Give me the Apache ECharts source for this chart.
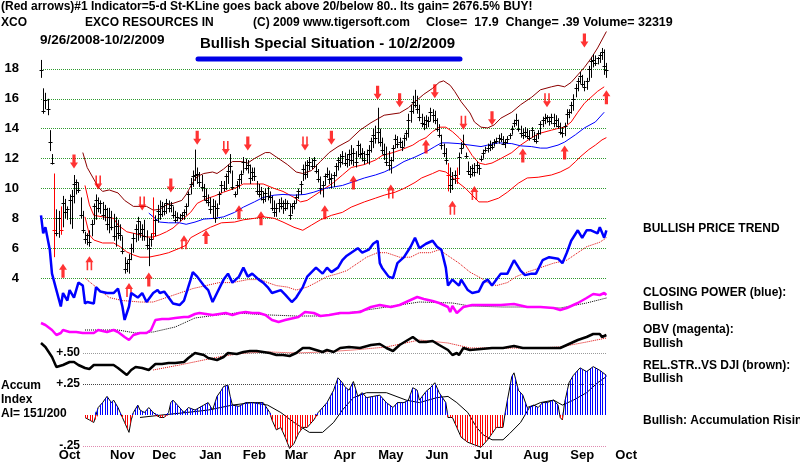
<!DOCTYPE html>
<html>
<head>
<meta charset="utf-8">
<script src="https://cdn.jsdelivr.net/npm/echarts@6/dist/echarts.min.js"></script>
<style>
  html, body { margin: 0; padding: 0; background: #fff; }
  #chart { width: 800px; height: 466px; }
</style>
</head>
<body>
<div id="chart"></div>
<script>
// XCO daily bars, 9/26/2008 .. 10/2/2009 (x = trading day index)
const priceHigh = [
  18.6,16.7,16.4,16.0,13.9,12.3,11.0,8.6,8.5,8.8,
  9.5,9.3,8.8,9.6,9.9,10.9,10.6,10.4,9.4,8.5,
  7.1,7.0,7.2,7.9,9.0,9.6,9.4,9.2,9.1,8.9,
  8.7,8.7,8.5,8.3,8.1,7.9,7.6,6.8,5.4,5.2,
  5.6,6.3,7.0,7.6,8.1,7.8,7.6,7.9,7.2,6.7,
  7.0,9.4,8.2,8.9,9.2,9.1,9.0,9.3,9.2,9.1,
  8.8,8.5,8.4,8.3,8.4,8.6,9.0,9.8,10.7,11.2,
  12.6,11.4,11.1,10.9,10.3,10.0,9.6,9.4,9.3,9.2,
  9.0,9.8,10.5,10.5,11.0,11.6,12.3,11.2,9.8,10.5,
  10.9,11.2,12.1,12.0,11.9,11.6,11.4,11.4,10.5,10.3,
  10.1,9.8,10.0,10.1,9.8,9.5,9.2,9.0,9.3,9.4,
  9.2,9.3,9.2,9.0,9.0,9.2,9.6,10.0,10.5,11.6,
  11.8,11.9,12.1,12.0,12.1,11.6,11.3,10.8,10.5,11.0,
  11.4,11.2,11.0,11.1,11.7,12.1,12.3,12.5,12.4,12.3,
  12.6,12.9,12.7,12.5,13.2,13.0,12.7,12.5,12.6,12.9,
  13.4,14.0,14.2,15.4,14.0,13.4,13.0,12.8,12.5,12.1,
  12.9,13.6,13.5,13.4,13.2,13.6,13.9,15.0,15.6,16.2,
  16.6,16.2,15.6,15.0,14.8,14.9,14.8,15.4,15.3,15.2,
  14.7,14.3,13.6,13.0,12.7,11.7,11.4,11.1,11.2,11.4,
  12.4,13.1,13.6,12.4,11.8,11.5,11.6,11.7,11.8,11.6,
  12.2,12.6,12.8,13.0,13.2,13.1,13.3,13.4,13.6,13.7,
  13.5,13.3,13.5,13.7,14.2,14.6,15.0,14.6,14.2,14.0,
  14.1,14.0,13.9,14.1,13.8,13.6,13.9,14.5,14.8,15.0,
  14.9,14.8,15.0,15.0,14.9,14.7,14.4,14.1,14.4,15.3,
  15.3,15.8,16.3,17.0,17.4,17.8,17.6,17.2,17.4,18.2,
  18.8,19.0,18.9,18.8,19.1,19.4,19.3,18.4
];
const priceLow = [
  17.4,15.0,15.3,14.9,12.5,11.6,5.4,6.8,6.7,6.9,
  7.4,8.0,7.9,7.6,7.3,9.0,9.6,9.7,8.0,7.0,
  6.3,6.2,6.1,6.8,7.6,7.9,8.4,8.3,7.9,7.8,
  7.2,7.0,7.2,6.5,6.1,6.6,6.5,5.6,4.3,4.4,
  4.3,5.2,5.7,6.4,6.5,6.7,6.5,6.5,5.9,4.8,
  6.1,6.6,6.8,7.7,7.9,8.1,8.2,8.3,8.4,8.4,
  8.0,7.7,7.8,7.8,7.9,7.9,8.2,8.8,9.6,10.1,
  10.5,10.3,10.1,9.8,9.2,9.0,8.8,8.3,8.0,7.7,
  8.1,8.9,9.7,9.8,9.9,10.3,11.0,9.9,9.4,9.6,
  10.0,10.3,11.0,11.2,11.0,10.3,10.5,10.5,9.6,9.4,
  9.2,9.0,9.1,9.2,9.0,8.5,8.1,8.1,8.4,8.6,
  8.3,8.5,8.6,7.9,8.3,8.6,9.0,9.3,9.6,10.5,
  10.6,10.7,11.2,11.3,11.4,11.0,10.4,9.6,9.4,10.2,
  10.7,10.3,10.0,10.1,10.8,11.2,11.4,11.6,11.5,11.4,
  11.5,11.6,11.5,11.4,12.1,12.0,11.8,11.6,11.7,11.6,
  12.4,12.7,13.0,13.0,12.8,12.3,11.9,11.5,11.2,11.0,
  11.8,12.7,12.7,12.7,12.5,12.8,13.2,13.4,14.4,15.0,
  15.4,15.0,14.5,14.1,13.9,14.0,14.1,14.5,14.4,14.3,
  13.8,13.4,12.6,12.1,11.6,9.8,9.7,9.9,10.3,10.3,
  10.9,12.3,12.7,12.0,10.9,10.7,10.8,10.8,11.0,10.9,
  11.8,12.0,12.4,12.4,12.5,12.6,12.8,13.0,13.0,13.1,
  12.9,12.7,13.0,13.3,13.6,14.1,14.2,13.8,13.4,13.3,
  13.4,13.3,13.2,13.4,13.1,13.0,13.3,13.6,14.1,14.3,
  14.4,14.2,14.3,14.1,14.1,14.0,13.6,13.4,13.5,14.3,
  14.7,15.0,15.2,16.1,16.5,17.0,16.8,16.5,16.6,17.2,
  17.4,18.1,18.2,18.3,18.4,18.6,17.6,17.4
];
const priceClose = [
  17.9,15.2,15.9,15.3,13.1,11.7,7.2,7.0,8.0,7.2,
  9.0,8.4,8.6,9.2,9.5,10.3,10.4,9.9,8.2,7.2,
  6.6,6.9,6.4,7.6,8.8,9.2,8.7,9.0,8.2,8.6,
  7.6,8.1,7.4,6.8,7.5,7.0,6.9,5.8,4.6,5.0,
  5.3,6.0,6.7,7.3,7.8,7.0,7.3,6.8,6.2,6.0,
  6.6,7.0,7.9,8.5,8.3,8.8,8.5,9.0,8.7,8.9,
  8.2,7.9,8.1,8.0,8.2,8.4,8.8,9.6,10.3,10.8,
  10.9,11.0,10.4,10.1,9.5,9.2,9.1,8.6,8.8,8.0,
  8.7,9.6,10.2,10.0,10.8,11.2,11.5,10.1,9.6,10.2,
  10.6,11.0,11.8,11.4,11.6,10.7,11.1,10.8,9.8,9.6,
  9.8,9.3,9.7,9.5,9.4,8.7,8.4,8.7,9.0,8.8,
  9.0,8.7,9.0,8.2,8.8,9.0,9.4,9.8,10.3,11.3,
  11.0,11.6,11.8,11.5,11.9,11.2,10.6,10.0,10.2,10.8,
  11.0,10.6,10.7,10.9,11.5,11.9,11.8,12.2,11.7,12.0,
  12.3,11.9,12.4,11.8,12.9,12.3,12.4,11.9,12.3,12.6,
  13.2,13.6,13.4,13.8,13.1,12.6,12.3,11.8,11.6,11.9,
  12.7,13.3,13.0,13.1,12.8,13.4,13.7,14.6,15.2,15.8,
  15.6,15.3,14.8,14.4,14.3,14.6,14.5,15.1,14.9,14.6,
  14.0,13.6,12.9,12.4,11.9,10.9,10.2,10.6,10.9,10.7,
  12.1,12.7,13.0,12.2,11.2,11.0,11.4,11.1,11.6,11.4,
  12.0,12.4,12.6,12.7,12.9,12.8,13.1,13.2,13.4,13.3,
  13.0,13.1,13.3,13.6,14.0,14.4,14.6,14.0,13.7,13.6,
  13.8,13.5,13.4,13.9,13.3,13.2,13.7,14.3,14.6,14.7,
  14.8,14.5,14.8,14.4,14.6,14.2,13.8,13.7,14.2,15.0,
  15.1,15.6,16.0,16.7,17.2,17.5,17.0,16.8,17.2,18.0,
  18.5,18.6,18.4,18.7,18.9,19.1,18.2,17.9
];
const redBarDays = [6, 9, 51, 185, 189];

// bands and average drawn over the price bars: [day, price]
const upperBand = [[19,12.4],[21,11.4],[26,10.1],[28,9.8],[31,9.9],[35,9.7],[38,9.2],[42,8.8],[45,8.8],[48,8.8],[51,8.55],[54,8.6],[57,8.9],[60,9.0],[64,9.2],[66,9.6],[69,10.4],[71,10.8],[74,11.0],[78,11.1],[80,11.0],[83,11.3],[87,11.8],[91,11.8],[94,11.7],[97,12.0],[102,12.4],[104,12.4],[107,12.1],[112,11.6],[116,11.1],[119,11.0],[123,11.2],[127,11.8],[131,12.4],[135,12.8],[140,13.2],[145,13.9],[150,14.4],[156,14.9],[163,15.05],[167,15.4],[170,15.8],[174,16.3],[178,16.7],[181,17.1],[183,17.2],[186,16.9],[188,16.5],[191,15.8],[195,15.05],[197,14.45],[200,14.1],[203,14.05],[206,14.25],[209,14.7],[214,15.1],[218,15.6],[223,16.1],[227,16.6],[232,16.8],[235,16.9],[238,16.8],[241,17.1],[244,17.6],[247,18.1],[250,18.7],[253,19.4],[257,20.5]];
const upperRedBand = [[20,10.2],[22,8.9],[24,8.2],[28,8.1],[33,8.0],[35,7.55],[39,7.1],[42,7.0],[45,6.9],[48,6.75],[51,6.75],[54,6.9],[57,7.1],[60,7.35],[63,7.75],[68,8.4],[71,9.0],[75,9.3],[79,9.5],[83,9.75],[88,10.0],[92,10.3],[97,10.3],[101,10.3],[106,10.0],[110,9.8],[115,9.4],[118,9.1],[121,9.2],[125,9.6],[129,10.0],[133,10.4],[137,10.9],[141,11.4],[147,11.6],[152,11.9],[155,12.2],[160,12.4],[164,12.6],[169,12.9],[172,13.2],[175,13.4],[178,13.8],[181,14.1],[184,14.1],[187,13.8],[190,13.4],[193,12.9],[196,12.2],[199,11.7],[202,11.6],[205,11.7],[209,12.0],[214,12.4],[218,12.9],[223,13.4],[227,13.7],[232,13.9],[236,14.05],[238,14.1],[241,14.45],[244,15.1],[247,15.7],[250,16.1],[253,16.5],[256,16.8]];
const lowerRedBand = [[20,8.1],[22,6.9],[24,6.55],[28,6.35],[33,6.35],[36,6.1],[39,5.75],[42,5.55],[45,5.4],[49,5.4],[54,5.55],[58,5.7],[63,6.0],[66,6.2],[68,6.7],[73,7.1],[77,7.4],[82,7.7],[88,7.75],[92,7.9],[97,8.0],[101,8.1],[106,8.0],[110,7.75],[115,7.4],[119,7.2],[123,7.55],[127,7.9],[132,8.2],[137,8.4],[141,8.75],[147,9.1],[152,9.35],[156,9.55],[161,9.75],[165,10.0],[170,10.4],[173,10.7],[178,11.0],[181,11.2],[184,11.1],[187,10.75],[190,10.35],[193,10.0],[196,9.55],[199,9.1],[203,9.1],[208,9.35],[212,9.75],[217,10.35],[221,10.7],[226,10.75],[232,10.9],[236,11.1],[240,11.4],[243,11.8],[245,12.1],[249,12.6],[252,12.9],[255,13.25],[257,13.4]];
const blueAverage = [[49,8.35],[51,8.1],[54,7.75],[58,7.7],[63,7.7],[66,7.6],[70,7.75],[74,7.95],[79,8.0],[83,8.1],[88,8.4],[92,8.75],[97,9.1],[101,9.4],[106,9.55],[110,9.6],[115,9.55],[120,9.6],[124,9.75],[129,10.0],[133,10.1],[137,10.2],[141,10.4],[147,10.7],[152,10.9],[156,11.1],[161,11.45],[165,11.8],[170,12.1],[175,12.45],[179,12.8],[182,13.05],[185,13.05],[190,13.0],[195,12.9],[200,12.8],[203,12.9],[208,13.05],[214,13.0],[218,12.85],[223,12.8],[227,12.7],[230,12.7],[235,12.9],[238,13.1],[243,13.6],[247,14.05],[252,14.45],[256,15.1]];

// signal arrows: [day, price]
const downArrows = [[15,11.8],[59,10.2],[71,13.4],[94,13.0],[132,13.4],[153,16.4],[163,15.9],[179,16.5],[205,14.7],[247,19.9]];
const downArrowsHollow = [[26,10.4],[46,9.0],[84,12.7],[120,13.0],[192,14.4],[230,15.9]];
const upArrows = [[10,4.5],[49,3.9],[75,6.75],[90,8.4],[100,8.0],[129,8.4],[142,10.4],[175,12.8],[219,12.2],[238,12.4],[257,16.1]];
const upArrowsHollow = [[22,5.0],[40,3.2],[65,6.4],[159,9.8],[187,8.7],[197,9.7]];

// closing power (blue) and its average, on the price scale
const closingPower = [[0,8.2],[1,7.0],[2,7.4],[4,5.9],[5,4.3],[7,3.2],[9,2.1],[10,3.0],[12,2.5],[13,3.2],[15,2.7],[17,3.7],[19,3.5],[20,2.3],[21,2.4],[24,2.3],[25,3.4],[27,3.1],[30,3.0],[33,3.0],[35,3.3],[37,2.1],[38,1.2],[40,2.1],[41,3.0],[44,2.7],[46,3.0],[48,2.4],[51,3.0],[53,3.2],[54,3.0],[56,3.1],[60,2.3],[63,2.2],[65,2.5],[68,3.9],[69,4.4],[71,4.1],[74,3.5],[76,3.2],[78,2.4],[80,3.0],[83,3.9],[85,4.3],[87,3.7],[90,4.1],[92,4.7],[94,4.1],[96,4.3],[99,3.9],[101,3.7],[103,3.4],[105,3.0],[109,3.2],[111,2.9],[114,2.4],[116,2.7],[119,3.4],[121,4.1],[123,4.4],[125,4.7],[128,4.3],[130,4.7],[132,4.4],[135,4.7],[137,5.2],[139,5.5],[141,5.7],[144,6.0],[146,5.7],[149,5.9],[151,6.3],[153,6.5],[154,5.0],[155,4.7],[158,4.1],[160,4.0],[162,5.0],[165,5.4],[168,6.1],[170,6.7],[172,6.0],[175,6.3],[178,6.5],[180,6.1],[182,5.9],[184,4.7],[185,3.5],[187,3.9],[190,3.5],[191,3.9],[194,3.2],[196,3.0],[199,3.1],[201,3.7],[203,3.9],[205,3.5],[209,4.3],[212,4.3],[215,5.2],[218,4.5],[220,4.2],[223,4.3],[225,4.3],[228,5.2],[231,5.4],[235,5.3],[237,5.0],[239,5.7],[241,6.5],[244,7.2],[246,6.7],[248,7.2],[250,7.2],[253,7.0],[254,7.4],[256,6.7],[257,7.2]];
const closingPowerAvg = [[20,4.0],[25,3.4],[31,2.7],[37,2.5],[45,2.4],[51,2.4],[57,2.7],[63,3.0],[69,3.3],[75,3.5],[81,3.7],[87,3.7],[94,3.9],[100,3.9],[103,3.7],[107,3.5],[112,3.4],[116,3.2],[121,3.4],[125,3.7],[130,4.1],[135,4.3],[139,4.5],[144,5.0],[148,5.4],[153,5.7],[157,5.7],[163,5.4],[168,5.4],[172,5.7],[177,5.7],[181,5.9],[186,5.4],[190,5.0],[195,4.4],[200,4.0],[203,3.7],[207,3.5],[212,3.7],[216,4.1],[221,4.4],[227,4.7],[233,5.0],[239,5.2],[244,5.7],[248,6.1],[254,6.4],[257,6.7]];

// OBV (magenta) and its average, relative units
const obv = [[0,4.4],[2,4.0],[5,3.0],[7,2.0],[9,2.4],[10,3.0],[13,2.6],[16,2.6],[19,2.4],[22,2.4],[24,2.4],[26,3.0],[30,2.6],[33,3.0],[35,2.6],[38,1.6],[40,1.0],[42,2.0],[45,2.4],[48,2.4],[50,3.0],[52,5.0],[55,5.2],[58,5.2],[61,5.4],[65,5.6],[67,5.6],[70,6.2],[72,6.4],[75,6.2],[78,6.0],[81,6.2],[84,6.4],[87,6.0],[90,6.4],[93,6.6],[96,6.4],[99,6.4],[102,6.0],[105,5.0],[108,4.6],[111,5.0],[115,5.4],[117,5.6],[120,6.6],[124,6.4],[127,5.8],[131,6.0],[136,6.4],[140,6.4],[145,6.6],[150,7.6],[154,8.0],[159,7.6],[163,8.0],[168,9.0],[171,9.6],[174,9.2],[178,8.8],[181,8.4],[185,7.6],[186,6.6],[187,7.8],[189,6.4],[192,7.6],[196,8.0],[203,8.0],[209,8.0],[215,8.2],[221,7.6],[227,7.6],[233,7.4],[236,7.0],[239,7.4],[244,8.4],[248,9.4],[251,10.2],[254,10.0],[256,10.4],[257,10.0]];
const obvAvg = [[20,3.0],[35,3.0],[43,2.4],[51,2.6],[61,3.6],[70,5.4],[80,6.0],[89,6.4],[104,6.0],[116,5.8],[127,5.8],[142,6.6],[157,7.6],[172,8.6],[187,8.4],[195,7.8],[210,7.6],[225,7.6],[236,7.4],[248,8.4],[257,9.4]];

// relative strength vs DJI (black) and its average, relative units
const relStrength = [[0,7.4],[2,6.6],[5,4.6],[7,2.6],[10,3.0],[13,3.6],[15,3.6],[17,3.0],[20,2.4],[22,2.2],[24,3.0],[26,3.0],[30,3.0],[33,3.0],[35,2.4],[39,1.0],[41,2.0],[43,2.6],[46,2.4],[49,2.0],[52,3.2],[55,3.2],[58,3.4],[61,3.4],[65,3.6],[67,4.4],[70,5.4],[74,5.0],[76,4.4],[80,4.0],[83,4.6],[85,5.4],[89,5.2],[92,5.6],[95,5.8],[98,5.8],[101,5.6],[104,5.4],[107,5.0],[110,5.0],[113,4.8],[116,5.4],[119,6.4],[122,6.4],[125,6.0],[128,5.6],[130,6.0],[133,5.6],[136,6.4],[140,6.6],[145,6.4],[150,7.0],[154,7.2],[157,6.4],[160,5.8],[163,7.0],[166,7.8],[169,8.6],[172,7.6],[175,7.6],[178,7.8],[181,7.0],[185,6.0],[187,5.0],[189,5.4],[190,5.0],[192,6.4],[195,6.0],[200,6.2],[205,6.4],[210,6.4],[215,6.8],[219,6.4],[224,6.4],[230,6.4],[236,6.4],[239,7.0],[244,8.0],[248,8.6],[251,9.2],[254,9.2],[255,8.6],[257,9.0]];
const relStrengthAvg = [[51,2.0],[63,3.0],[74,4.0],[83,4.8],[93,5.4],[104,5.6],[116,5.4],[128,5.6],[142,6.0],[157,6.6],[172,8.0],[185,7.4],[195,6.4],[210,6.4],[225,6.4],[236,6.6],[248,7.6],[257,8.4]];

// accumulation index and its average
const accumIndex = [[20,-0.02],[22,-0.04],[24,-0.06],[26,0.06],[28,0.10],[30,0.15],[32,0.10],[33,0.12],[35,0.06],[36,0.02],[37,-0.02],[38,-0.06],[40,-0.14],[41,-0.04],[42,0.02],[44,0.08],[45,0.04],[47,0.02],[49,0.06],[51,0.02],[54,-0.02],[56,-0.02],[58,0.02],[59,0.10],[60,0.12],[62,0.08],[65,0.02],[67,0.06],[70,0.04],[74,0.08],[76,0.10],[78,0.04],[80,0.15],[82,0.20],[83,0.23],[85,0.24],[86,0.15],[87,0.08],[90,0.07],[93,0.10],[97,0.10],[101,0.10],[104,0.02],[105,-0.04],[107,-0.12],[109,-0.10],[111,-0.18],[113,-0.27],[115,-0.23],[117,-0.15],[119,-0.10],[121,-0.10],[124,-0.04],[126,0.02],[128,0.06],[130,0.10],[133,0.20],[135,0.30],[137,0.26],[138,0.23],[140,0.20],[142,0.27],[144,0.15],[146,0.18],[148,0.14],[151,0.15],[154,0.16],[157,0.10],[160,0.06],[162,0.10],[165,0.10],[167,0.12],[169,0.22],[171,0.20],[172,0.12],[175,0.19],[177,0.22],[179,0.26],[181,0.18],[184,0.10],[185,-0.02],[187,-0.02],[189,-0.10],[191,-0.18],[194,-0.22],[197,-0.24],[200,-0.26],[203,-0.20],[205,-0.15],[207,-0.10],[210,-0.10],[211,0.02],[212,0.12],[214,0.31],[215,0.34],[217,0.20],[219,0.16],[221,0.06],[224,0.08],[226,0.06],[228,0.10],[230,0.10],[233,0.12],[235,0.08],[236,-0.02],[237,-0.04],[238,0.10],[240,0.26],[242,0.32],[245,0.38],[248,0.35],[251,0.39],[254,0.36],[257,0.32]];
const accumAvg = [[45,-0.02],[55,0.0],[66,0.02],[76,0.04],[87,0.08],[96,0.10],[103,0.08],[109,0.02],[115,-0.06],[122,-0.14],[128,-0.14],[133,-0.06],[137,0.04],[142,0.14],[148,0.18],[157,0.18],[166,0.12],[172,0.10],[180,0.14],[185,0.15],[189,0.10],[194,0.02],[198,-0.10],[201,-0.16],[205,-0.20],[210,-0.20],[213,-0.15],[218,-0.06],[222,0.06],[227,0.10],[233,0.12],[237,0.08],[242,0.12],[248,0.18],[253,0.26],[257,0.31]];

// tick labels
const priceTicks = [4, 6, 8, 10, 12, 14, 16, 18];
const aiTicks = [0.5, 0.25, -0.25];
const aiTickLabels = ['+.50', '+.25', '-.25'];
const monthTicks = [13, 37, 56, 77, 97, 116, 138, 159, 180, 201, 225, 246, 266];
const monthLabels = ['Oct', 'Nov', 'Dec', 'Jan', 'Feb', 'Mar', 'Apr', 'May', 'Jun', 'Jul', 'Aug', 'Sep', 'Oct'];

const FONT = '"Liberation Sans", Arial, sans-serif';
const LAST_DAY = 257;
const PX_PER_DAY = 2.2;
const PLOT_LEFT = 41;
const PLOT_WIDTH = LAST_DAY * PX_PER_DAY;
const AI_LEFT = 83;
const AI_WIDTH = PLOT_LEFT + PLOT_WIDTH - AI_LEFT;

const ARROW_DOWN = 'path://M3,0L7,0L7,8L10,8L5,14L0,8L3,8Z';
const ARROW_UP = 'path://M5,0L10,6L7,6L7,14L3,14L3,6L0,6Z';
const ARROW_DOWN_HOLLOW = 'path://M0,8L10,8L5,14Z M1.5,0L3.5,0L3.5,8L1.5,8Z M6.5,0L8.5,0L8.5,8L6.5,8Z';
const ARROW_UP_HOLLOW = 'path://M5,0L10,6L0,6Z M1.5,6L3.5,6L3.5,14L1.5,14Z M6.5,6L8.5,6L8.5,14L6.5,14Z';

function stripes(color) {
  const c = document.createElement('canvas');
  c.width = 5;
  c.height = 4;
  const g = c.getContext('2d');
  g.fillStyle = color;
  g.fillRect(0, 0, 1, 4);
  g.fillRect(2, 0, 1, 4);
  return c;
}

function line(data, xi, yi, color, width, type, z) {
  return {
    type: 'line', data, xAxisIndex: xi, yAxisIndex: yi,
    symbol: 'none', clip: false, silent: true, z: z || 2,
    lineStyle: { color, width, type: type || 'solid' }
  };
}

function arrows(data, symbol) {
  return {
    type: 'scatter', data, xAxisIndex: 0, yAxisIndex: 0, clip: false, silent: true, z: 4,
    symbol, symbolSize: [8, 14], itemStyle: { color: '#ff0000' }
  };
}

function hiddenX(gridIndex, min, max) {
  return { gridIndex, type: 'value', min, max, show: false };
}

// [x, y, text, font size]
const textItems = [
  [1, 7, '(Red arrows)#1 Indicator=5-d St-KLine goes back above 20/below 80.. Its gain= 2676.5% BUY!', 12],
  [1, 23, 'XCO', 12],
  [85, 23, 'EXCO RESOURCES IN', 12],
  [253, 23, '(C) 2009 www.tigersoft.com', 12],
  [426, 23, 'Close=  17.9  Change= .39 Volume= 32319', 12.5],
  [40, 40, '9/26/2008-10/2/2009', 13.5],
  [643, 229, 'BULLISH PRICE TREND', 12],
  [643, 293, 'CLOSING POWER (blue):', 12],
  [643, 307, 'Bullish', 12],
  [643, 330, 'OBV (magenta):', 12],
  [643, 344, 'Bullish', 12],
  [643, 366, 'REL.STR..VS DJI (brown):', 12],
  [643, 379, 'Bullish', 12],
  [643, 421, 'Bullish: Accumulation Rising', 12],
  [1, 386, 'Accum', 12],
  [1, 400, 'Index', 12],
  [1, 414, 'AI= 151/200', 12]
];

const chart = echarts.init(document.getElementById('chart'), null, { renderer: 'canvas' });

chart.setOption({
  animation: false,
  backgroundColor: '#ffffff',
  grid: [
    { left: PLOT_LEFT, top: 39, width: PLOT_WIDTH, height: 269 },
    { left: PLOT_LEFT, top: 290, width: PLOT_WIDTH, height: 55 },
    { left: PLOT_LEFT, top: 330, width: PLOT_WIDTH, height: 50 },
    { left: AI_LEFT, top: 353, width: AI_WIDTH, height: 93 },
    { left: PLOT_LEFT, top: 446, width: 270 * PX_PER_DAY, height: 1 }
  ],
  xAxis: [
    hiddenX(0, 0, LAST_DAY),
    hiddenX(1, 0, LAST_DAY),
    hiddenX(2, 0, LAST_DAY),
    hiddenX(3, LAST_DAY - AI_WIDTH / PX_PER_DAY, LAST_DAY),
    {
      gridIndex: 4, type: 'value', min: 0, max: 270,
      axisLine: { show: false }, axisTick: { show: false }, splitLine: { show: false },
      axisLabel: {
        customValues: monthTicks,
        formatter: v => monthLabels[monthTicks.indexOf(v)],
        margin: 2, color: '#000', fontFamily: FONT, fontWeight: 'bold', fontSize: 13
      }
    }
  ],
  yAxis: [
    {
      gridIndex: 0, type: 'value', min: 2, max: 20, interval: 2,
      axisLine: { show: false }, axisTick: { show: false },
      axisLabel: {
        customValues: priceTicks, margin: 22,
        color: '#000', fontFamily: FONT, fontWeight: 'bold', fontSize: 13
      },
      splitLine: {
        show: true, showMinLine: false, showMaxLine: false,
        lineStyle: { type: 'dotted', color: '#2f9a2f', width: 1 }
      }
    },
    { gridIndex: 0, type: 'value', min: 2, max: 20, show: false },
    { gridIndex: 1, type: 'value', min: 0, max: 11, show: false },
    { gridIndex: 2, type: 'value', min: 0, max: 10, show: false },
    {
      gridIndex: 3, type: 'value', min: -0.25, max: 0.5, interval: 0.25,
      axisLine: { show: false }, axisTick: { show: false },
      axisLabel: {
        customValues: aiTicks, margin: 3,
        formatter: v => aiTickLabels[aiTicks.findIndex(t => Math.abs(t - v) < 1e-6)],
        color: '#000', fontFamily: FONT, fontWeight: 'bold', fontSize: 12
      },
      splitLine: {
        show: true,
        lineStyle: { type: 'dotted', width: 1, color: ['#e08ab0', 'rgba(0,0,0,0)', '#444444', '#9a9a9a'] }
      }
    },
    { gridIndex: 4, type: 'value', show: false }
  ],
  graphic: [
    ...textItems.map(([x, y, text, size]) => ({
      type: 'text', x, y, silent: true,
      style: { text, fill: '#000', font: 'bold ' + size + 'px ' + FONT, verticalAlign: 'middle' }
    })),
    {
      type: 'text', x: 200, y: 44, silent: true,
      style: { text: 'Bullish Special Situation - 10/2/2009', fill: '#000', font: 'bold 15px ' + FONT, verticalAlign: 'middle' }
    },
    {
      type: 'line', silent: true,
      shape: { x1: 198, y1: 59, x2: 460, y2: 59 },
      style: { stroke: '#0000e6', lineWidth: 5, lineCap: 'round' }
    }
  ],
  series: [
    line(upperBand, 0, 0, '#8b0000', 1),
    line(upperRedBand, 0, 0, '#ff0000', 1),
    line(lowerRedBand, 0, 0, '#ff0000', 1),
    line(blueAverage, 0, 0, '#0000ff', 1),
    {
      type: 'custom', xAxisIndex: 0, yAxisIndex: 0, silent: true, z: 3,
      data: priceHigh.map((h, i) => [i, h, priceLow[i], priceClose[i]]),
      encode: { x: 0, y: [1, 2, 3] },
      renderItem: (params, api) => {
        const day = api.value(0);
        const top = api.coord([day, api.value(1)]);
        const bottom = api.coord([day, api.value(2)]);
        const close = api.coord([day, api.value(3)]);
        const x = Math.round(top[0]) + 0.5;
        const cy = Math.round(close[1]) + 0.5;
        const stroke = redBarDays.includes(day) ? '#ff0000' : '#000000';
        return {
          type: 'group',
          children: [
            { type: 'line', shape: { x1: x, y1: top[1], x2: x, y2: bottom[1] }, style: { stroke, lineWidth: 1 } },
            { type: 'line', shape: { x1: x - 2, y1: cy, x2: x + 2, y2: cy }, style: { stroke, lineWidth: 1 } }
          ]
        };
      }
    },
    arrows(downArrows, ARROW_DOWN),
    arrows(downArrowsHollow, ARROW_DOWN_HOLLOW),
    arrows(upArrows, ARROW_UP),
    arrows(upArrowsHollow, ARROW_UP_HOLLOW),
    line(closingPowerAvg, 0, 1, '#e00000', 1, 'dotted'),
    line(closingPower, 0, 1, '#0000ff', 2.5, 'solid', 5),
    line(obvAvg, 1, 2, '#000000', 1, 'dotted'),
    line(obv, 1, 2, '#ff00ff', 2.5, 'solid', 5),
    line(relStrengthAvg, 2, 3, '#e00000', 1, 'dotted'),
    line(relStrength, 2, 3, '#000000', 2.5, 'solid', 5),
    {
      type: 'line', xAxisIndex: 3, yAxisIndex: 4, symbol: 'none', silent: true, clip: false,
      data: accumIndex.map(([d, v]) => [d, Math.max(v, 0)]),
      lineStyle: { width: 0 },
      areaStyle: { origin: 0, opacity: 1, color: { image: stripes('#0000ff'), repeat: 'repeat' } }
    },
    {
      type: 'line', xAxisIndex: 3, yAxisIndex: 4, symbol: 'none', silent: true, clip: false,
      data: accumIndex.map(([d, v]) => [d, Math.min(v, 0)]),
      lineStyle: { width: 0 },
      areaStyle: { origin: 0, opacity: 1, color: { image: stripes('#ff0000'), repeat: 'repeat' } }
    },
    line(accumIndex, 3, 4, '#000000', 1),
    line(accumAvg, 3, 4, '#000000', 1)
  ]
});
</script>
</body>
</html>
